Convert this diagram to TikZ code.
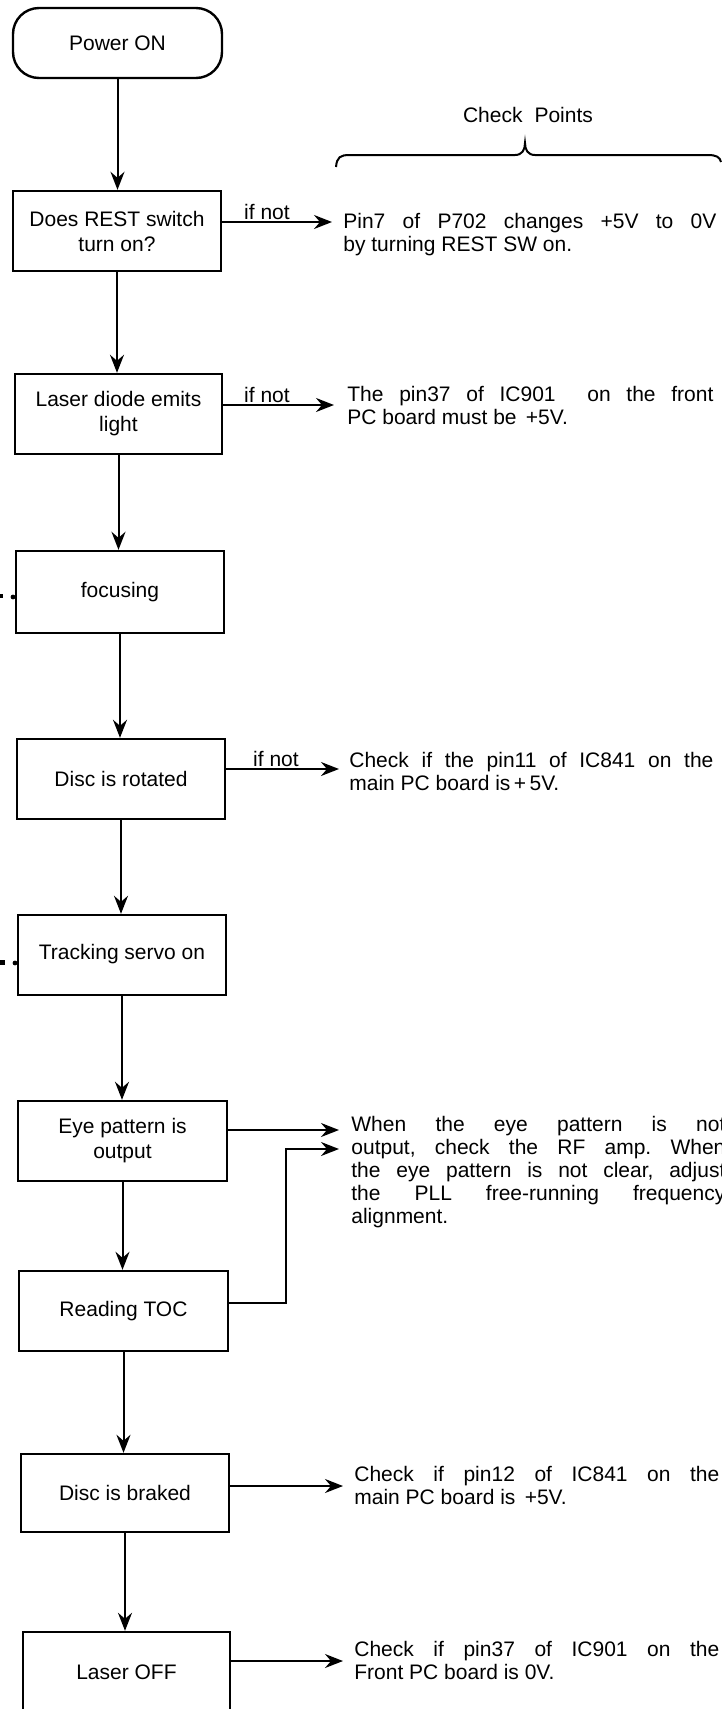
\documentclass[tikz,border=0pt]{standalone}
\usepackage{fontspec}
\setmainfont{Liberation Sans}
\usetikzlibrary{arrows.meta}
\frenchspacing
\begin{document}
\begin{tikzpicture}[x=0.5pt,y=-0.5pt,
  every node/.style={font=\fontsize{10.5}{12.5}\selectfont},
  box/.style={draw,line width=1.2pt,inner sep=0pt,align=center,minimum height=40pt},
  arr/.style={line width=1pt,-{Stealth[length=9pt,width=7pt,inset=3pt]}},
  ln/.style={line width=1pt},
  note/.style={anchor=base west,inner sep=0pt},
  ifnot/.style={anchor=base,inner sep=0pt},
]
\useasboundingbox (0,0) rectangle (722,1709);

% flow boxes
\node[box,rounded corners=13pt,minimum width=104.5pt,minimum height=35pt] (p) at (117.5,43) {Power ON};
\node[box,minimum width=104pt] (b1) at (117,231) {Does REST switch\\turn on?};
\node[box,minimum width=103.5pt] (b2) at (118.5,414) {Laser diode emits\\light};
\node[box,minimum width=104pt,minimum height=41pt] (b3) at (120,592) {\raisebox{2.5pt}{focusing}};
\node[box,minimum width=104pt] (b4) at (121,779) {Disc is rotated};
\node[box,minimum width=104pt] (b5) at (122,955) {\raisebox{3.5pt}{Tracking servo on}};
\node[box,minimum width=104.5pt] (b6) at (122.5,1141) {Eye pattern is\\output};
\node[box,minimum width=104.5pt] (b7) at (123.5,1311) {Reading TOC};
\node[box,minimum width=104pt,minimum height=39pt] (b8) at (125,1493) {Disc is braked};
\node[box,minimum width=103.5pt] (b9) at (126.5,1672) {Laser OFF};

% vertical connectors
\draw[arr] (p.south) -- (p.south |- b1.north);
\draw[arr] (b1.south) -- (b1.south |- b2.north);
\draw[arr] (b2.south) -- (b2.south |- b3.north);
\draw[arr] (b3.south) -- (b3.south |- b4.north);
\draw[arr] (b4.south) -- (b4.south |- b5.north);
\draw[arr] (b5.south) -- (b5.south |- b6.north);
\draw[arr] (b6.south) -- (b6.south |- b7.north);
\draw[arr] (b7.south) -- (b7.south |- b8.north);
\draw[arr] (b8.south) -- (b8.south |- b9.north);

% check points header
\node (cp) at (528,115) {Check\hspace{6pt}Points};
\draw[ln] (336,167) .. controls (337,157) and (340,155) .. (350,155) -- (515,155)
  .. controls (522,155) and (525,150) .. (525,143)
  .. controls (525,150) and (528,155) .. (535,155) -- (708,155)
  .. controls (716,155) and (720,157) .. (721,162);

% side connectors
\coordinate (t1) at (332,222);
\coordinate (t2) at (334,405);
\coordinate (t4) at (339,769);
\coordinate (t6a) at (339,1130);
\coordinate (t6b) at (339,1149);
\coordinate (j7) at (286,1149);
\coordinate (c7) at (228,1303);
\coordinate (t8) at (343,1486);
\coordinate (t9) at (343,1661);

\draw[arr] (b1.east |- t1) -- (t1);
\draw[arr] (b2.east |- t2) -- (t2);
\draw[arr] (b4.east |- t4) -- (t4);
\draw[arr] (b6.east |- t6a) -- (t6a);
\draw[arr] (b7.east |- c7) -| (j7) -- (t6b);
\draw[arr] (b8.east |- t8) -- (t8);
\draw[arr] (b9.east |- t9) -- (t9);

\node[ifnot] (n1) at (267,219) {if not};
\node[ifnot] (n2) at (267,402) {if not};
\node[ifnot] (n4) at (276,766) {if not};

% check point texts
\node[note] (x1) at (343,228) {\vtop{\baselineskip=11.5pt
  \hbox{\makebox[186.5pt][s]{Pin7 of P702 changes +5V to 0V}}
  \hbox{by turning REST SW on.}}};
\node[note] (x2) at (347,401) {\vtop{\baselineskip=11.5pt
  \hbox{\makebox[183pt][s]{The pin37 of IC901\hspace{8pt} on the front}}
  \hbox{PC board must be \,+5V.}}};
\node[note] (x4) at (349,767) {\vtop{\baselineskip=11.5pt
  \hbox{\makebox[182pt][s]{Check if the pin11 of IC841 on the}}
  \hbox{main PC board is\,+\,5V.}}};
\node[note] (x6) at (351,1131) {\vtop{\baselineskip=11.5pt
  \hbox{\makebox[187pt][s]{When the eye pattern is not}}
  \hbox{\makebox[187pt][s]{output, check the RF amp. When}}
  \hbox{\makebox[187pt][s]{the eye pattern is not clear, adjust}}
  \hbox{\makebox[187pt][s]{the PLL free-running frequency}}
  \hbox{alignment.}}};
\node[note] (x8) at (354,1481) {\vtop{\baselineskip=11.5pt
  \hbox{\makebox[182.5pt][s]{Check if pin12 of IC841 on the}}
  \hbox{main PC board is \,+5V.}}};
\node[note] (x9) at (354,1656) {\vtop{\baselineskip=11.5pt
  \hbox{\makebox[182.5pt][s]{Check if pin37 of IC901 on the}}
  \hbox{Front PC board is 0V.}}};

% small marks at left edge
\fill (0,594) rectangle (3,598);
\fill (13,597) circle[radius=1.2pt];
\fill (0,960) rectangle (5,965);
\fill (15,963) circle[radius=1.2pt];
\end{tikzpicture}
\end{document}
